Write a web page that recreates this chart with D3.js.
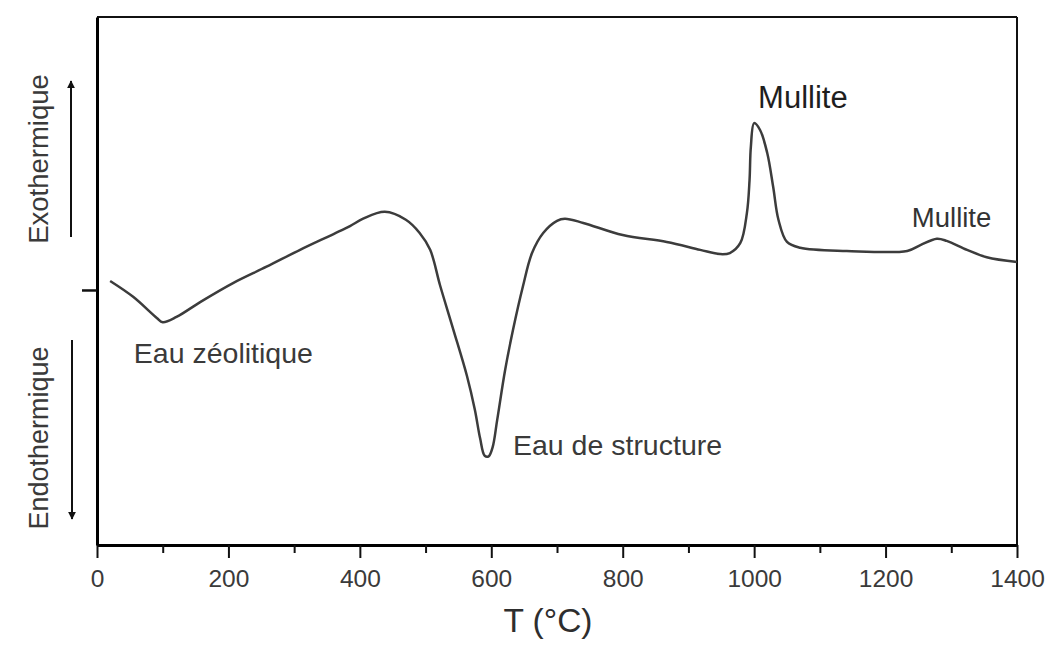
<!DOCTYPE html>
<html>
<head>
<meta charset="utf-8">
<script src="https://cdn.jsdelivr.net/npm/d3@7"></script>
<style>
  html, body { margin: 0; padding: 0; background: #fff; }
  svg { display: block; font-family: "Liberation Sans", Arial, Helvetica, sans-serif; }
</style>
</head>
<body>
<svg id="chart" width="1048" height="646"></svg>
<script>
// DTA curve of a zeolite heated to 1400 °C (signal in arbitrary units)
const temperature = [20, 55, 91, 100, 121, 157, 207, 258, 309, 360, 385, 405, 438,
  470, 491, 507, 522, 542, 563, 575, 583, 590, 596, 602, 609, 621, 633, 648, 662, 679,
  700, 712, 740, 800, 867, 918, 948, 963, 979, 989, 993, 995, 1000, 1009, 1020, 1029,
  1037, 1050, 1070, 1141, 1233, 1253, 1278, 1293, 1324, 1354, 1400];
const signal = [50.0, 47.0, 43.0, 42.2, 43.2, 46.0, 49.6, 52.7, 55.9, 58.9, 60.4, 61.8, 63.1,
  61.6, 59.1, 55.9, 49.2, 40.9, 32.0, 25.6, 20.2, 16.9, 16.8, 18.5, 23.7, 33.1, 40.7, 48.9, 55.3, 59.1,
  61.4, 61.8, 61.0, 58.7, 57.4, 55.9, 55.1, 55.3, 57.2, 62.9, 69.1, 75.4, 79.9, 78.6, 74.2, 67.8,
  61.6, 57.4, 56.3, 55.7, 55.7, 56.8, 58.0, 57.6, 55.9, 54.5, 53.6];

const majorTicks = [0, 200, 400, 600, 800, 1000, 1200, 1400];
const minorTicks = [100, 300, 500, 700, 900, 1100, 1300];
const baselineLevel = [48.3];

// Peak labels, anchored in data coordinates (temperature, signal)
const peakNames = ["Eau zéolitique", "Eau de structure", "Mullite", "Mullite"];
const peakAnchorT = [56, 633, 1006, 1240];
const peakAnchorV = [34.5, 17.0, 82.8, 60.2];
const peakFontSize = [28.5, 28.5, 31, 27.5];
const peakColor = ["#3a3a3a", "#3a3a3a", "#1e1e1e", "#333"];

const W = 1048, H = 646;
const margin = { top: 17, right: 31, bottom: 101, left: 97 };

const svg = d3.select("#chart");
svg.append("rect").attr("width", W).attr("height", H).attr("fill", "#fff");

const x = d3.scaleLinear().domain([0, 1400]).range([margin.left, W - margin.right]);
const y = d3.scaleLinear().domain([0, 100]).range([H - margin.bottom, margin.top]);

// frame: top and right borders
svg.append("line")
  .attr("x1", x(0)).attr("x2", x(1400)).attr("y1", y(100)).attr("y2", y(100))
  .attr("stroke", "#111").attr("stroke-width", 2);
svg.append("line")
  .attr("x1", x(1400)).attr("x2", x(1400)).attr("y1", y(100)).attr("y2", y(0))
  .attr("stroke", "#111").attr("stroke-width", 2);

// bottom axis, major ticks with labels
const xAxis = svg.append("g")
  .attr("transform", `translate(0,${y(0)})`)
  .call(d3.axisBottom(x).tickValues(majorTicks).tickSize(13).tickSizeOuter(0)
    .tickPadding(12).tickFormat(d3.format("d")));
xAxis.select(".domain").attr("stroke", "#000").attr("stroke-width", 3);
xAxis.selectAll(".tick line").attr("stroke", "#111").attr("stroke-width", 2);
xAxis.selectAll(".tick text")
  .attr("fill", "#3a3a3a").style("font-size", "24.5px");

// minor ticks
const xMinor = svg.append("g")
  .attr("transform", `translate(0,${y(0)})`)
  .call(d3.axisBottom(x).tickValues(minorTicks).tickSize(8).tickSizeOuter(0).tickFormat(""));
xMinor.select(".domain").remove();
xMinor.selectAll(".tick line").attr("stroke", "#111").attr("stroke-width", 2);

// left axis with baseline marker
const yAxis = svg.append("g")
  .attr("transform", `translate(${x(0)},0)`)
  .call(d3.axisLeft(y).tickValues(baselineLevel).tickSize(15).tickSizeOuter(0).tickFormat(""));
yAxis.select(".domain").attr("stroke", "#000").attr("stroke-width", 3);
yAxis.selectAll(".tick line").attr("stroke", "#111").attr("stroke-width", 2.5);

// x axis title
svg.append("text")
  .attr("x", 548).attr("y", 632)
  .attr("text-anchor", "middle")
  .attr("fill", "#2e2e2e")
  .style("font-size", "33.5px")
  .text("T (°C)");

// Exo / Endo direction labels with arrows
const defs = svg.append("defs");
defs.append("marker")
  .attr("id", "head")
  .attr("viewBox", "0 0 10 10")
  .attr("refX", 9).attr("refY", 5)
  .attr("markerWidth", 4).attr("markerHeight", 4)
  .attr("orient", "auto")
  .append("path").attr("d", "M0,0 L10,5 L0,10 Z").attr("fill", "#111");

svg.append("line")
  .attr("x1", 71).attr("x2", 71).attr("y1", 237).attr("y2", 81)
  .attr("stroke", "#111").attr("stroke-width", 2)
  .attr("marker-end", "url(#head)");
svg.append("line")
  .attr("x1", 72).attr("x2", 72).attr("y1", 340).attr("y2", 519)
  .attr("stroke", "#111").attr("stroke-width", 2)
  .attr("marker-end", "url(#head)");

svg.append("text")
  .attr("transform", "translate(48,159) rotate(-90)")
  .attr("text-anchor", "middle")
  .attr("fill", "#3a3a3a")
  .style("font-size", "27.5px")
  .text("Exothermique");
svg.append("text")
  .attr("transform", "translate(48,438) rotate(-90)")
  .attr("text-anchor", "middle")
  .attr("fill", "#3a3a3a")
  .style("font-size", "27px")
  .text("Endothermique");

// DTA curve
const pts = temperature.map((t, i) => [t, signal[i]]);
const line = d3.line()
  .x(d => x(d[0]))
  .y(d => y(d[1]))
  .curve(d3.curveCatmullRom.alpha(0.5));
svg.append("path")
  .datum(pts)
  .attr("d", line)
  .attr("fill", "none")
  .attr("stroke", "#3c3c3c")
  .attr("stroke-width", 2.5)
  .attr("stroke-linejoin", "round");

// peak labels
svg.selectAll("text.peak")
  .data(peakNames)
  .join("text")
  .attr("class", "peak")
  .attr("x", (d, i) => x(peakAnchorT[i]))
  .attr("y", (d, i) => y(peakAnchorV[i]))
  .attr("fill", (d, i) => peakColor[i])
  .style("font-size", (d, i) => peakFontSize[i] + "px")
  .text(d => d);
</script>
</body>
</html>
